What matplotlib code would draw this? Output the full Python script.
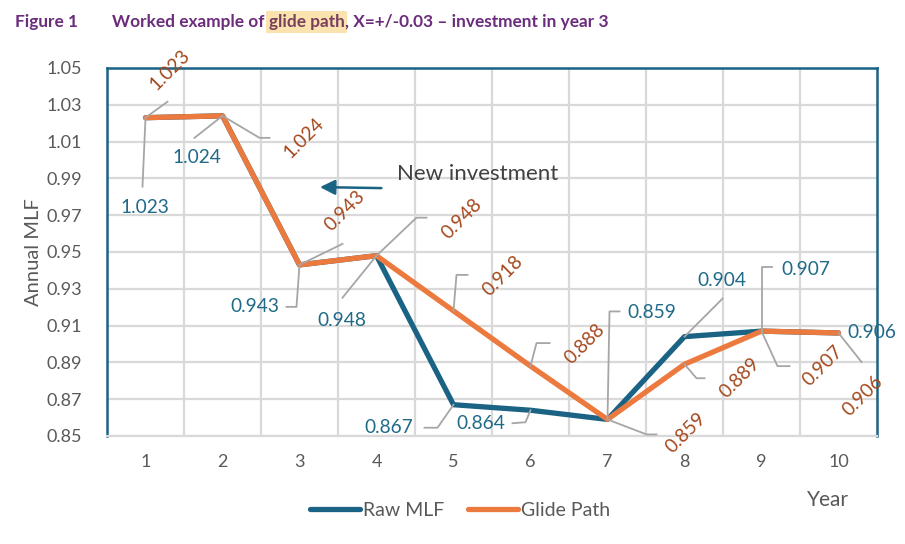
import matplotlib
matplotlib.use("Agg")
import matplotlib.pyplot as plt
from matplotlib.lines import Line2D
from matplotlib.transforms import IdentityTransform

plt.rcParams['font.family'] = ['Lato', 'DejaVu Sans']

# data ---------------------------------------------------------------
years = [1, 2, 3, 4, 5, 6, 7, 8, 9, 10]
raw_mlf = [1.023, 1.024, 0.943, 0.948, 0.867, 0.864, 0.859, 0.904, 0.907, 0.906]
glide_path = [1.023, 1.024, 0.943, 0.948, 0.918, 0.888, 0.859, 0.889, 0.907, 0.906]
y_ticks = [0.85, 0.87, 0.89, 0.91, 0.93, 0.95, 0.97, 0.99, 1.01, 1.03, 1.05]

# label placement, pixel offsets from the point (x right, y down)
raw_lab_off = [(-1, 90), (-26, 42), (-45, 42), (-35, 65), (-65, 23),
               (-50, 13), (44, -107), (37, -56), (44, -62), (33, 0)]
raw_leader = [[(-3, 69)], [(-28, 22)], [(-3, 42), (-13, 42)], [(-34, 42)],
              [(-16, 23), (-29, 23)], [(-5, 12), (-18, 13)],
              [(2, -108), (12, -108)], [(38, -38)], [(0, -64), (10, -64)], []]
glide_lab_off = [(24, -48), (81, 22), (45, -54), (85, -37), (49, -35),
                 (54, -22), (78, 13), (55, 14), (61, 35), (24, 63)]
glide_leader = [[(22, -16)], [(37, 22), (47, 22)], [(43, -21)],
                [(40, -38), (50, -38)], [(3, -36), (14, -36)],
                [(6, -23), (19, -23)], [(39, 15), (49, 15)],
                [(12, 14), (20, 14)], [(16, 35), (28, 35)], [(23, 29)]]

BLUE = "#1a6384"
ORANGE = "#ec7a3f"
BLUE_TXT = "#1f6a88"
ORANGE_TXT = "#a4471c"
GREY = "#595959"
PURPLE = "#6b2c7c"

fig = plt.figure(figsize=(9.05, 5.44), dpi=100)
W, H = 905, 544
ax = fig.add_axes([107 / W, 1 - 436 / H, 770 / W, 368 / H])
ax.set_xlim(0.5, 10.5)
ax.set_ylim(0.85, 1.05)

ax.set_yticks(y_ticks)
ax.set_yticklabels([f"{v:.2f}" for v in y_ticks])
ax.set_xticks(years)
ax.set_xticks([y + 0.5 for y in years[:-1]], minor=True)
ax.tick_params(axis='both', which='both', length=0, labelsize=13, colors=GREY)
ax.tick_params(axis='x', pad=13)
ax.tick_params(axis='y', pad=18)
ax.grid(axis='y', color="#d9d9d9", lw=1.6)
ax.grid(axis='x', which='minor', color="#d9d9d9", lw=1.6)
ax.set_axisbelow(True)
for s in ['left', 'top', 'right']:
    ax.spines[s].set_color(BLUE)
    ax.spines[s].set_linewidth(1.8)
ax.spines['bottom'].set_color("#d9d9d9")
ax.spines['bottom'].set_linewidth(1.6)

ax.plot(years, raw_mlf, color=BLUE, lw=3.8, label="Raw MLF", zorder=3,
        solid_capstyle='round', solid_joinstyle='round')
ax.plot(years, glide_path, color=ORANGE, lw=3.8, label="Glide Path", zorder=4,
        solid_capstyle='round', solid_joinstyle='round')


def leader(x, y, pts):
    px, py = ax.transData.transform((x, y))
    xs = [px] + [px + dx for dx, dy in pts]
    ys = [py] + [py - dy for dx, dy in pts]
    fig.add_artist(Line2D(xs, ys, transform=IdentityTransform(),
                          color="#a6a6a6", lw=1.3, zorder=5))


for i, yr in enumerate(years):
    if raw_leader[i]:
        leader(yr, raw_mlf[i], raw_leader[i])
    dx, dy = raw_lab_off[i]
    ax.annotate(f"{raw_mlf[i]:.3f}", (yr, raw_mlf[i]), xytext=(dx, -dy),
                textcoords='offset pixels', ha='center', va='center',
                fontsize=13.8, color=BLUE_TXT, zorder=6, annotation_clip=False)
    if glide_leader[i]:
        leader(yr, glide_path[i], glide_leader[i])
    dx, dy = glide_lab_off[i]
    ax.annotate(f"{glide_path[i]:.3f}", (yr, glide_path[i]), xytext=(dx, -dy),
                textcoords='offset pixels', ha='center', va='center',
                rotation=45, rotation_mode='anchor',
                fontsize=13.8, color=ORANGE_TXT, zorder=6, annotation_clip=False)

# new investment arrow
ax.annotate("", xy=(3.23, 0.9853), xytext=(4.10, 0.9847),
            arrowprops=dict(arrowstyle="-|>,head_length=0.9,head_width=0.45",
                            color=BLUE, lw=1.8))
ax.text(4.26, 0.9925, "New investment", fontsize=16, color="#404040",
        ha='left', va='center')

ax.set_ylabel("Annual MLF", fontsize=14.5, color=GREY, labelpad=3)
fig.text(828 / W, 1 - 500 / H, "Year", fontsize=15, color=GREY,
         ha='center', va='center')

leg = fig.legend(loc='center', bbox_to_anchor=(460 / W, 1 - 510 / H), ncol=2,
                 frameon=False, fontsize=14, handlelength=2.6,
                 handletextpad=0.15, columnspacing=1.2, labelcolor=GREY)

# title
fig.canvas.draw()
r = fig.canvas.get_renderer()
ty = 1 - 22 / H
fs_t = 12.4
fig.text(15 / W, ty, "Figure 1", fontsize=fs_t, fontweight='bold',
         color=PURPLE, va='center')
t1 = fig.text(112 / W, ty, "Worked example of ", fontsize=fs_t,
              fontweight='bold', color=PURPLE, va='center')
x1 = t1.get_window_extent(r).x1
t2 = fig.text(x1 / W, ty, "glide path", fontsize=fs_t, fontweight='bold',
              color="#7a3f5e", va='center',
              bbox=dict(boxstyle='square,pad=0.15', fc="#fae3ae", ec='none'))
x2 = t2.get_window_extent(r).x1
fig.text(x2 / W, ty, ", X=+/-0.03 \u2013 investment in year 3", fontsize=fs_t,
         fontweight='bold', color=PURPLE, va='center')

fig.savefig("out.png", dpi=100)
